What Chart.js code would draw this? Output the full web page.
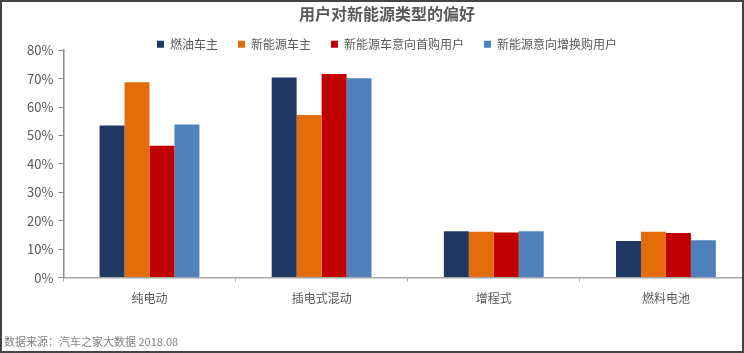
<!DOCTYPE html>
<html>
<head>
<meta charset="utf-8">
<script src="https://cdn.jsdelivr.net/npm/chart.js@4"></script>
<style>
  html, body { margin: 0; padding: 0; background: #fff; overflow: hidden; }
  #wrap { position: absolute; left: 0; top: 0; width: 752px; height: 353px; }
  #frame { position: absolute; left: 0; top: 0; width: 744px; height: 353px; box-sizing: border-box; border: 2px solid #444; pointer-events: none; }
  #source { position: absolute; left: 4px; top: 333px; font: 11px "Noto Sans CJK SC", sans-serif; color: #808080; }
</style>
</head>
<body>
<div id="wrap"><canvas id="prefChart" width="752" height="353"></canvas></div>
<div id="source">数据来源：汽车之家大数据 2018.08</div>
<div id="frame"></div>
<script>
var categories = ['纯电动', '插电式混动', '增程式', '燃料电池'];
var fuelOwners = [53.5, 70.4, 16.3, 12.9];
var nevOwners = [68.7, 57.2, 16.1, 16.1];
var nevFirstBuy = [46.4, 71.6, 15.9, 15.7];
var nevReplace = [53.9, 70.1, 16.3, 13.1];
var yTicks = [0, 10, 20, 30, 40, 50, 60, 70, 80];

document.addEventListener('DOMContentLoaded', function() {
    var ctx = document.getElementById('prefChart').getContext('2d');
    var fontFamily = '"Noto Sans CJK SC", sans-serif';

    function series(label, data, color) {
        return {
            label: label,
            data: data,
            backgroundColor: color,
            borderWidth: 0,
            barPercentage: 1.0,
            categoryPercentage: 0.58
        };
    }

    new Chart(ctx, {
        type: 'bar',
        data: {
            labels: categories,
            datasets: [
                series('燃油车主', fuelOwners, '#203864'),
                series('新能源车主', nevOwners, '#E46C0A'),
                series('新能源车意向首购用户', nevFirstBuy, '#C00000'),
                series('新能源意向增换购用户', nevReplace, '#4F81BD')
            ]
        },
        options: {
            responsive: false,
            animation: false,
            devicePixelRatio: 1,
            layout: { padding: { left: 22, right: 0, top: 0, bottom: 37 } },
            plugins: {
                title: {
                    display: true,
                    text: '用户对新能源类型的偏好',
                    color: '#595959',
                    font: { family: fontFamily, size: 16, weight: 'bold' },
                    padding: { top: 4, bottom: -5 }
                },
                legend: {
                    position: 'top',
                    maxHeight: 32,
                    labels: {
                        boxWidth: 7,
                        boxHeight: 7,
                        padding: 20,
                        color: '#595959',
                        font: { family: fontFamily, size: 12 }
                    }
                },
                tooltip: { enabled: false }
            },
            scales: {
                x: {
                    grid: {
                        display: true,
                        drawOnChartArea: false,
                        tickLength: 4,
                        color: '#a6a6a6'
                    },
                    border: { color: '#a6a6a6', width: 1.5 },
                    ticks: {
                        color: '#595959',
                        padding: 10,
                        maxRotation: 0,
                        font: { family: fontFamily, size: 12 }
                    }
                },
                y: {
                    min: 0,
                    max: 80,
                    afterBuildTicks: function(axis) {
                        axis.ticks = yTicks.map(function(v) { return { value: v }; });
                    },
                    grid: {
                        display: true,
                        drawOnChartArea: false,
                        tickLength: 5,
                        color: '#8c8c8c'
                    },
                    border: { color: '#8c8c8c', width: 1.5 },
                    ticks: {
                        color: '#595959',
                        padding: 5,
                        font: { family: fontFamily, size: 13 },
                        callback: function(v) { return v + '%'; }
                    }
                }
            }
        }
    });
});
</script>
</body>
</html>
